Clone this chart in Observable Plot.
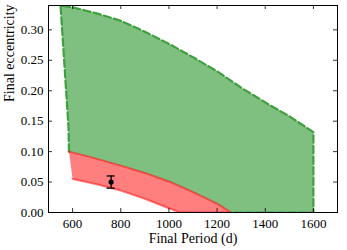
<!DOCTYPE html>
<html>
<head>
<meta charset="utf-8">
<script src="https://cdn.jsdelivr.net/npm/d3@7"></script>
<script src="https://cdn.jsdelivr.net/npm/@observablehq/plot@0.6"></script>
<style>
  html, body { margin: 0; padding: 0; background: #fff; }
  #chart svg { display: block; }
  #chart svg, #chart svg text { font-family: "Liberation Serif", "DejaVu Serif", serif !important; }
</style>
</head>
<body>
<div id="chart"></div>
<script>
// Axis ticks
const xTicks = [600, 800, 1000, 1200, 1400, 1600];
const yTicks = [0.00, 0.05, 0.10, 0.15, 0.20, 0.25, 0.30];
const xLabel = "Final Period (d)";
const yLabel = "Final eccentricity";

// Green region boundary (open dashed path): left edge, top curve, right edge, bottom
const greenP = [585, 583, 550, 600, 700, 800, 900, 1000, 1100, 1200, 1300, 1425, 1500, 1550, 1600, 1600, 1258];
const greenE = [0.100, 0.140, 0.340, 0.337, 0.327, 0.315, 0.297, 0.277, 0.255, 0.232, 0.205, 0.175, 0.158, 0.145, 0.132, 0.000, 0.000];

// Red region: upper boundary and lower boundary
const redTopP = [585, 675, 800, 900, 1000, 1050, 1100, 1150, 1200, 1258];
const redTopE = [0.100, 0.091, 0.077, 0.065, 0.051, 0.0425, 0.0335, 0.024, 0.0145, 0.000];
const redBotP = [600, 700, 800, 900, 1000, 1045];
const redBotE = [0.055, 0.0465, 0.036, 0.0225, 0.007, 0.000];

// Observed planet
const obsP = [760];
const obsE = [0.050];
const obsErr = [0.010];

const W = 347, H = 250;
const mL = 48, mR = 10, mT = 5, mB = 38;
const frameW = W - mL - mR, frameH = H - mT - mB;

const greenPath = greenP.map((p, i) => ({p, e: greenE[i]}));
const redTop = redTopP.map((p, i) => ({p, e: redTopE[i]}));
const redBot = redBotP.map((p, i) => ({p, e: redBotE[i]}));
const greenPoly = greenPath.concat(redTop.slice().reverse());
const redPoly = redTop.concat(redBot.slice().reverse());
const obs = obsP.map((p, i) => ({p, e: obsE[i], lo: obsE[i] - obsErr[i], hi: obsE[i] + obsErr[i]}));

const font = "Liberation Serif";

const chart = Plot.plot({
  width: W, height: H,
  marginLeft: mL, marginRight: mR, marginTop: mT, marginBottom: mB,
  style: {fontFamily: font, fontSize: "13px", color: "black", background: "white"},
  x: {domain: [500, 1700]},
  y: {domain: [0, 0.34]},
  marks: [
    Plot.line(greenPoly, {x: "p", y: "e", fill: "#7fbf7f", stroke: "none", clip: true}),
    Plot.line(greenPath, {x: "p", y: "e", stroke: "#40a040", strokeWidth: 2.2, strokeDasharray: "7.4,3.2", clip: true}),
    Plot.line(redPoly, {x: "p", y: "e", fill: "red", fillOpacity: 0.5, stroke: "red", strokeOpacity: 0.5, strokeWidth: 2, clip: true}),
    Plot.ruleX(obs, {x: "p", y1: "lo", y2: "hi", stroke: "black", strokeWidth: 1.3}),
    Plot.ruleY(obs, {y: "lo", x1: "p", x2: "p", insetLeft: -4, insetRight: -4, stroke: "black", strokeWidth: 1.3}),
    Plot.ruleY(obs, {y: "hi", x1: "p", x2: "p", insetLeft: -4, insetRight: -4, stroke: "black", strokeWidth: 1.3}),
    Plot.dot(obs, {x: "p", y: "e", r: 2.6, fill: "black", stroke: "none"}),
    Plot.tickX(xTicks, {x: d => d, insetTop: frameH - 4, stroke: "black", strokeWidth: 0.8}),
    Plot.tickX(xTicks, {x: d => d, insetBottom: frameH - 4, stroke: "black", strokeWidth: 0.8}),
    Plot.tickY(yTicks, {y: d => d, insetRight: frameW - 4, stroke: "black", strokeWidth: 0.8}),
    Plot.tickY(yTicks, {y: d => d, insetLeft: frameW - 4, stroke: "black", strokeWidth: 0.8}),
    Plot.axisX({ticks: xTicks, tickSize: 0, tickPadding: 6, label: null, fontSize: 13, fontFamily: font, fill: "black", tickFormat: d => String(d)}),
    Plot.axisY({ticks: yTicks, tickSize: 0, tickPadding: 5, label: null, fontSize: 13, fontFamily: font, fill: "black", tickFormat: d3.format(".2f")}),
    Plot.text([xLabel], {frameAnchor: "bottom", dy: 30, fontSize: 14, fontFamily: font, fill: "black"}),
    Plot.text([yLabel], {frameAnchor: "left", dx: -39, dy: -7, rotate: -90, fontSize: 14, fontFamily: font, fill: "black"}),
    Plot.frame({stroke: "black", strokeWidth: 1})
  ]
});
document.getElementById("chart").appendChild(chart);
</script>
</body>
</html>
